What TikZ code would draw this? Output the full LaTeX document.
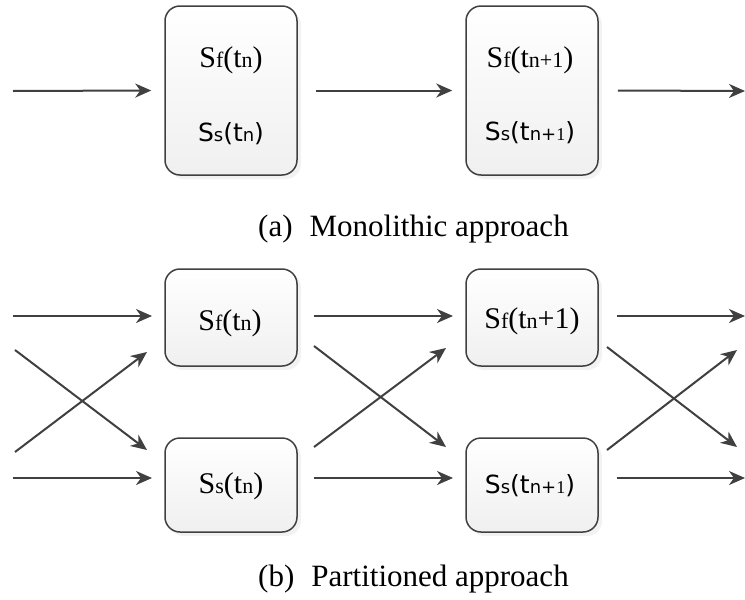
\documentclass[tikz,border=0pt]{standalone}
\usepackage{fontspec}
\setmainfont{Liberation Serif}
\newfontfamily\sansf{DejaVu Sans}
\usetikzlibrary{arrows.meta,shadows}
\newcommand\bigS{\fontsize{30}{34}\selectfont}
\newcommand\smS{\fontsize{22}{24}\selectfont}
\newcommand\bigSans{\sansf\fontsize{25}{28}\selectfont}
\newcommand\smSans{\fontsize{18}{20}\selectfont}
\definecolor{dk}{HTML}{404040}
\tikzset{
  box/.style={draw=dk, line width=1.5pt, rounded corners=15pt,
    top color=white, bottom color=black!6, minimum width=132pt,
    drop shadow={opacity=0.1, shadow xshift=4pt, shadow yshift=-4pt}},
  arr/.style={draw=dk, line width=2pt,
    -{Stealth[length=16pt, width=14pt, inset=5pt]}},
  lbl/.style={anchor=base, inner sep=0pt},
  captext/.style={anchor=base west, inner sep=0pt, font=\fontsize{31}{36}\selectfont}
}
\begin{document}
\begin{tikzpicture}[x=1pt, y=-1pt]
\useasboundingbox (0,0) rectangle (745,600);
% ---------- (a) ----------
\node[box, minimum height=169pt] (A1) at (231,90.5) {};
\node[box, minimum height=169pt] (A2) at (532,90.5) {};
\node[lbl] (A1f) at (231,67) {\bigS S{\smS f}(t{\smS n})};
\node[lbl] (A1s) at (231,141) {\bigSans S{\smSans s}(t{\smSans n})};
\node[lbl] (A2f) at (530,67) {\bigS S{\smS f}(t{\smS n+1})};
\node[lbl] (A2s) at (530,140) {\bigSans S{\smSans s}(t{\smSans n+{\rmfamily 1}})};
\coordinate (a0) at (13,91);
\coordinate (a3) at (745,91);
\draw[arr] (a0) -- ([xshift=-13pt]A1.west);
\draw[arr] ([xshift=18pt]A1.east) -- ([xshift=-13pt]A2.west);
\draw[arr] ([xshift=19pt]A2.east) -- (a3);
\node[captext] (capa) at (258,236) {(a)\hspace{17pt}Monolithic approach};
% ---------- (b) ----------
\node[box, minimum height=97pt] (Bf1) at (231,317.5) {};
\node[box, minimum height=94pt] (Bs1) at (231,485) {};
\node[box, minimum height=97pt] (Bf2) at (532,317.5) {};
\node[box, minimum height=94pt] (Bs2) at (532,485) {};
\node[lbl] (Bf1t) at (230,330) {\bigS S{\smS f}(t{\smS n})};
\node[lbl] (Bs1t) at (231,493) {\bigS S{\smS s}(t{\smS n})};
\node[lbl] (Bf2t) at (532,328) {\bigS S{\smS f}(t{\smS n}+1)};
\node[lbl] (Bs2t) at (530,493) {\bigSans S{\smSans s}(t{\smSans n+{\rmfamily 1}})};
% left inputs
\coordinate (l1) at (13,316);
\coordinate (l2) at (13,478);
\coordinate (l3) at (15,350);
\coordinate (l4) at (15,452);
\coordinate (l1e) at (152,316);
\coordinate (l2e) at (152,478);
\coordinate (l3e) at (147,450);
\coordinate (l4e) at (147,352);
\draw[arr] (l1) -- (l1e);
\draw[arr] (l2) -- (l2e);
\draw[arr] (l3) -- (l3e);
\draw[arr] (l4) -- (l4e);
% middle
\coordinate (m1) at (314,316);
\coordinate (m2) at (314,478);
\coordinate (m3) at (314,346);
\coordinate (m4) at (314,447);
\coordinate (m1e) at (453,316);
\coordinate (m2e) at (453,478);
\coordinate (m3e) at (446,447);
\coordinate (m4e) at (446,348);
\draw[arr] (m1) -- (m1e);
\draw[arr] (m2) -- (m2e);
\draw[arr] (m3) -- (m3e);
\draw[arr] (m4) -- (m4e);
% right outputs
\coordinate (r1) at (617,316);
\coordinate (r2) at (617,478);
\coordinate (r3) at (607,347);
\coordinate (r4) at (607,450);
\coordinate (r1e) at (745,316);
\coordinate (r2e) at (745,478);
\coordinate (r3e) at (737,447);
\coordinate (r4e) at (737,350);
\draw[arr] (r1) -- (r1e);
\draw[arr] (r2) -- (r2e);
\draw[arr] (r3) -- (r3e);
\draw[arr] (r4) -- (r4e);
\node[captext] (capb) at (258,586) {(b)\hspace{17pt}Partitioned approach};
\end{tikzpicture}
\end{document}
